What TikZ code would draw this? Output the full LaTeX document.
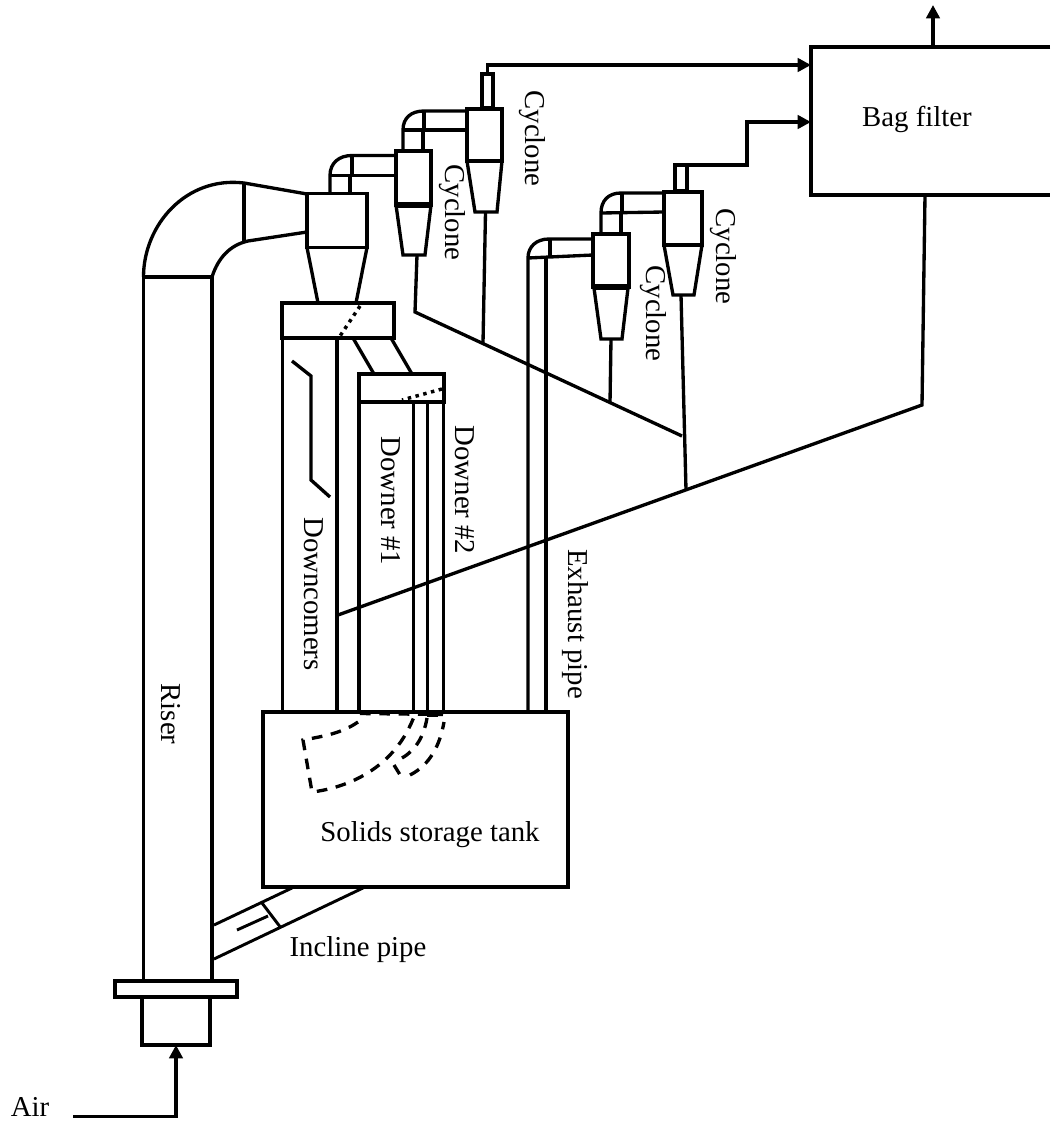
\documentclass[tikz,border=0pt]{standalone}
\usepackage{fontspec}
\setmainfont{Liberation Serif}
\usetikzlibrary{positioning,arrows.meta}

\begin{document}
\begin{tikzpicture}[
  x=0.75pt, y=-0.75pt,
  every node/.style={font=\fontsize{21.6}{24}\selectfont},
  pipe/.style={line width=2.5pt},
  part/.style 2 args={rectangle, draw, line width=2.5pt, inner sep=0pt, outer sep=0pt,
                      minimum width=#1*0.75pt, minimum height=#2*0.75pt},
  thinpipe/.style={line width=2.2pt},
  flowarrow/.style={-{Triangle[length=10pt,width=10pt]}, line width=2.5pt},
  hiddenpipe/.style={line width=2.5pt, dash pattern=on 8pt off 6.5pt},
  gate/.style={line width=2.6pt, dash pattern=on 2.6pt off 3.4pt},
  tag/.style={rotate=-90, inner sep=0pt},
  label/.style={inner sep=0pt}
]
\useasboundingbox (0,0) rectangle (1050,1124);

% vessels
\node[part={305}{175}] (tank)   at (415.5,799.5) {};
\node[part={122}{16}]  (flange) at (176,989) {};
\node[part={68}{48}]   (plenum) at (176,1021) {};
\node[part={112}{35}]  (loopA)  at (338,320.5) {};
\node[part={85}{28}]   (loopB)  at (401.5,388) {};

% bag filter runs off the page
\coordinate (bagNW) at (811,47);
\coordinate (bagSW) at (811,195);
\draw[pipe] (1050,47) -- (bagNW) -- (bagSW) -- (1050,195);
\node[label] (bagtxt) at (917,119) {Bag filter};

% riser and elbow
\draw[pipe] (143.5,981) -- (143.5,277) -- (212,277) -- (212,981);
\draw[pipe] (143.5,277) .. controls (143.5,225) and (186,176) .. (244,183) -- (307,194);
\draw[pipe] (212,277) .. controls (218,258) and (230,245) .. (248,241) -- (307,232);
\draw[pipe] (244,183) -- (244,242);

% first cyclone
\node[part={60}{54}] (cycA) at (337,220.5) {};
\draw[pipe] (cycA.south west) -- (318,303);
\draw[pipe] (cycA.south east) -- (356,303);
\draw[pipe] (330,193) -- (330,175.5) .. controls (330,163) and (339,155.5) .. (352,155.5) -- (396,155.5);
\draw[pipe] (350,193) -- (350,175.5);
\draw[pipe] (330,175.5) -- (396,175.5);
\draw[pipe] (352,155.5) -- (352,175.5);

% second cyclone
\node[part={35}{54}] (cycB) at (413.5,178) {};
\draw[line width=4pt] (cycB.south west) -- (cycB.south east);
\draw[pipe] (396,205) -- (403,255) -- (425,255) -- (431,205);
\draw[pipe] (403,150) -- (403,130) .. controls (403,118) and (411,111) .. (424,111) -- (467,111);
\draw[pipe] (423,150) -- (423,130);
\draw[pipe] (403,130) -- (467,130);
\draw[pipe] (424,111) -- (424,130);

% third cyclone
\node[part={35}{52}] (cycC) at (484.5,135) {};
\draw[pipe] (cycC.south west) -- (475,212) -- (497,212) -- (cycC.south east);
\node[part={11}{34}] (stackC) at (487.5,91) {};

% fourth cyclone
\node[part={36}{53}] (cycD) at (611,260.5) {};
\draw[line width=4pt] (cycD.south west) -- (cycD.south east);
\draw[pipe] (594,288) -- (601,339) -- (622,339) -- (628,288);
\draw[pipe] (601,234) -- (601,213) .. controls (601,201) and (608,193) .. (621,193) -- (664,193);
\draw[pipe] (621,234) -- (621,213);
\draw[pipe] (601,213) -- (664,212);
\draw[pipe] (622,193) -- (622,213);

% fifth cyclone
\node[part={38}{53}] (cycE) at (683,218.5) {};
\draw[pipe] (cycE.south west) -- (673,295) -- (694,295) -- (cycE.south east);
\node[part={12}{26}] (stackE) at (681,178) {};

% exhaust pipe
\draw[pipe] (528,712) -- (528,258) .. controls (528,247) and (536,239) .. (549,239) -- (593,239);
\draw[pipe] (546,712) -- (546,257);
\draw[pipe] (528,258) -- (593,255);
\draw[line width=3pt] (550,239) -- (550,258);

% gas lines to the bag filter
\draw[flowarrow] (stackC.north) -- (487.5,65) -- (bagNW |- 0,65);
\draw[flowarrow] (stackE.north) -- (747,165) -- (747,122) -- (bagNW |- 0,122);
\draw[flowarrow] (933,47) -- (933,5);

% dust lines
\coordinate (dustA) at (415,312);
\coordinate (dustB) at (682,436);
\coordinate (dustC) at (922,405);
\coordinate (dustD) at (338,615);
\draw[pipe] (417,255) -- (dustA) -- (dustB);
\draw[pipe] (485.5,212) -- (483,343);
\draw[pipe] (611,339) -- (610,403);
\draw[pipe] (681,295) -- (686,490);
\draw[pipe] (925,195) -- (dustC) -- (dustD);

% loop seals and downcomers
\draw[gate] (360,306) -- (340,336);
\draw[pipe] (282.5,338) -- (282.5,712);
\draw[pipe] (337,338) -- (337,712);
\draw[pipe] (292,361) -- (311,376) -- (311,480) -- (330,497);
\draw[pipe] (353,338) -- (374,374);
\draw[pipe] (391,338) -- (412,374);
\draw[gate] (442,389) -- (402,400);
\draw[pipe] (359,402) -- (359,712);
\draw[pipe] (413.5,402) -- (413.5,712);
\draw[pipe] (427.5,402) -- (427.5,712);
\draw[pipe] (443.5,402) -- (443.5,712);

% hidden parts inside the tank
\draw[hiddenpipe] (360,713.5) -- (443,714.5);
\draw[line width=3pt] (427,714.5) -- (438,714.5);
\draw[hiddenpipe] (358,722) .. controls (342,733) and (325,736) .. (303,740) -- (312,792)
   .. controls (345,788) and (395,770) .. (415,714);
\draw[hiddenpipe] (394,765) -- (402,778);
\draw[hiddenpipe] (402,758) .. controls (416,750) and (424,736) .. (427,718);
\draw[hiddenpipe] (410,775) .. controls (430,765) and (440,745) .. (444,722);

% incline pipe
\draw[thinpipe] (214,925) -- (292,888);
\draw[thinpipe] (214,959) -- (363,888);
\draw[thinpipe] (262,903) -- (281,928);
\draw[thinpipe] (237,930) -- (268,916);

% air feed
\draw[flowarrow] (73,1116.5) -- (176,1116.5) -- (plenum.south);

% labels
\node[tag]   (cyclonetxtC) at (532,138.5)  {Cyclone};
\node[tag]   (cyclonetxtB) at (452,212.5)  {Cyclone};
\node[tag]   (cyclonetxtE) at (723,256.5)  {Cyclone};
\node[tag]   (cyclonetxtD) at (653,313.5)  {Cyclone};
\node[tag]   (downcomers)  at (314,594)    {Downcomers};
\node[tag]   (downerone)   at (391,501)    {Downer \#1};
\node[tag]   (downertwo)   at (465,490)    {Downer \#2};
\node[tag]   (exhausttxt)  at (575,624)    {Exhaust pipe};
\node[tag]   (risertxt)    at (171,714)    {Riser};
\node[label] (tanktxt)     at (430,835)    {Solids storage tank};
\node[label] (inclinetxt)  at (358,950)    {Incline pipe};
\node[label] (airtxt)      at (30,1107)    {Air};
\end{tikzpicture}
\end{document}
